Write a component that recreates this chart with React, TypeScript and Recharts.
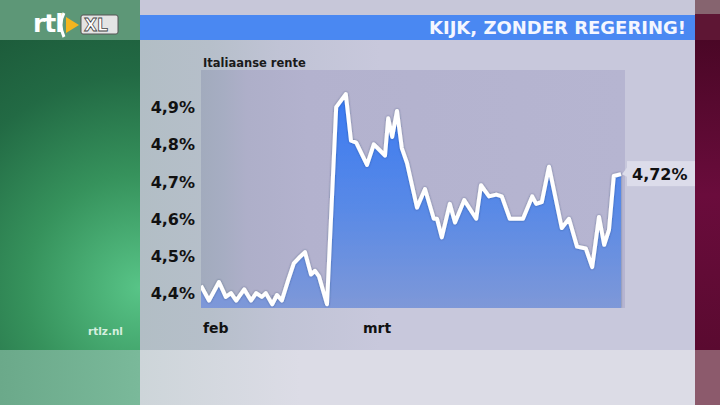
import { AreaChart, Area, XAxis, YAxis, CartesianGrid, ReferenceDot } from 'recharts'

// trading days since 1 feb (x) and Italian 10y yield in % (y)
const days = [
  0, 1, 2.25, 3.1, 3.75, 4.4, 5.4, 6.25, 6.9, 7.6, 8.1, 8.9, 9.5, 10.1, 10.9, 11.6, 12.25, 13, 13.75, 14.25,
  14.75, 15.75, 16.9, 18.1, 18.75, 19.4, 20.75, 21.6, 23, 23.4, 23.9, 24.5, 25.1, 25.75, 27, 28, 29.1, 29.5,
  30.1, 31.1, 31.75, 32.9, 34.4, 35, 36, 36.9, 37.6, 38.6, 39.5, 40.25, 41.4, 41.9, 42.6, 43.5, 45.1, 46, 47,
  48.1, 48.9, 49.75, 50.4, 51, 51.6, 52.5,
]
const rates = [
  4.42, 4.38, 4.43, 4.39, 4.4, 4.38, 4.41, 4.38, 4.4, 4.39, 4.4, 4.37, 4.395, 4.38, 4.435, 4.48, 4.495, 4.51,
  4.45, 4.46, 4.445, 4.37, 4.9, 4.935, 4.81, 4.805, 4.745, 4.8, 4.77, 4.87, 4.82, 4.89, 4.79, 4.75, 4.63, 4.68,
  4.6, 4.6, 4.55, 4.64, 4.59, 4.65, 4.6, 4.69, 4.66, 4.665, 4.66, 4.6, 4.6, 4.6, 4.66, 4.64, 4.645, 4.74, 4.575,
  4.6, 4.525, 4.52, 4.47, 4.605, 4.53, 4.57, 4.715, 4.72,
]
const yTicks = [4.4, 4.5, 4.6, 4.7, 4.8, 4.9]
const monthTicks = [0, 20]
const monthLabels = ['feb', 'mrt']
const lastLabel = '4,72%'
const title = 'KIJK, ZONDER REGERING!'
const seriesName = 'Italiaanse rente'
const source = 'Bron: Reuters'

const data = days.map((t, i) => ({ t, v: rates[i] }))
const last = data[data.length - 1]

const FONT = '"DejaVu Sans", Verdana, sans-serif'

const pct = (v: number) => `${v.toFixed(1).replace('.', ',')}%`

function YTick({ x, y, payload }: any) {
  return (
    <text x={x} y={y} dy={6} textAnchor="end" fontFamily={FONT} fontWeight={700} fontSize={16} fill="#111">
      {pct(payload.value)}
    </text>
  )
}

function XTick({ x, y, payload }: any) {
  const idx = monthTicks.indexOf(payload.value)
  return (
    <text x={x + 2} y={y + 17} textAnchor="start" fontFamily={FONT} fontWeight={700} fontSize={14} fill="#111">
      {monthLabels[idx] ?? ''}
    </text>
  )
}

// little flag with the last value, hooked onto the end of the line
function LastValue({ cx, cy }: any) {
  if (cx == null || cy == null) return null
  return (
    <g>
      <polygon points={`${cx + 1},${cy} ${cx + 7},${cy - 8} ${cx + 7},${cy + 3}`} fill="#dcdcea" />
      <rect x={cx + 6} y={cy - 13} width={68} height={25} fill="#dcdcea" />
      <text x={cx + 11} y={cy + 6} fontFamily={FONT} fontWeight={700} fontSize={16} fill="#111">
        {lastLabel}
      </text>
    </g>
  )
}

export default function App() {
  return (
    <div style={{ position: 'absolute', left: 0, top: 0, width: 720, height: 405, overflow: 'hidden', fontFamily: FONT }}>
      {/* studio backdrop */}
      <div style={{ position: 'absolute', left: 0, top: 0, width: 720, height: 405, background: '#d8d8e4' }} />
      <div style={{ position: 'absolute', left: 140, top: 0, width: 555, height: 15, background: '#c7c7d9' }} />
      <div
        style={{
          position: 'absolute', left: 140, top: 40, width: 555, height: 310,
          background: 'linear-gradient(90deg, #b2bec5 0px, #b6bfca 70px, #c0c3d5 140px, #c8c8dc 240px, #c8c8dc 555px)',
        }}
      />
      <div style={{ position: 'absolute', left: 140, top: 350, width: 555, height: 55, background: 'linear-gradient(90deg, #cdd5d9, #dcdce6 160px)' }} />

      {/* green side panel */}
      <div style={{ position: 'absolute', left: 0, top: 0, width: 140, height: 40, background: '#5d9777' }} />
      <div
        style={{
          position: 'absolute', left: 0, top: 40, width: 140, height: 310,
          background: 'radial-gradient(circle at 100% 80%, #58c487 0%, #36925c 40%, #226a44 75%, #1d5c3b 100%)',
        }}
      />
      <div style={{ position: 'absolute', left: 0, top: 350, width: 140, height: 55, background: 'linear-gradient(90deg, #6ba98a, #7ab99a)' }} />

      {/* red side strip */}
      <div style={{ position: 'absolute', left: 695, top: 0, width: 25, height: 14, background: '#86646f' }} />
      <div style={{ position: 'absolute', left: 695, top: 14, width: 25, height: 26, background: '#5e1634' }} />
      <div style={{ position: 'absolute', left: 695, top: 40, width: 25, height: 310, background: 'linear-gradient(180deg, #4a0726, #6a0c3c 50%, #5a0a30)' }} />
      <div style={{ position: 'absolute', left: 695, top: 350, width: 25, height: 55, background: '#8c5a6c' }} />

      {/* title bar */}
      <div style={{ position: 'absolute', left: 140, top: 15, width: 555, height: 25, background: '#4a88f2' }} />
      <div
        style={{
          position: 'absolute', right: 720 - 686, top: 16, height: 23, lineHeight: '23px',
          color: '#f4f6ff', fontWeight: 700, fontSize: 18, whiteSpace: 'nowrap',
        }}
      >
        {title}
      </div>

      {/* logo */}
      <div style={{ position: 'absolute', left: 33, top: 9, height: 30, lineHeight: '30px', color: '#ffffff', fontWeight: 700, fontSize: 25, letterSpacing: -1 }}>
        rtl
      </div>
      <svg style={{ position: 'absolute', left: 0, top: 0 }} width={140} height={40}>
        <path d="M64 13 Q58 24 64 37" stroke="#ffffff" strokeWidth={3} fill="none" />
        <polygon points="66,17 79,25 66,33" fill="#f5b51e" />
        <rect x={81} y={15} width={37} height={19} rx={2} fill="#e4e4e4" stroke="#555" strokeWidth={1} />
        <text x={84} y={31} fontFamily={FONT} fontWeight={700} fontSize={17} fill="#ffffff" stroke="#444" strokeWidth={0.8}>
          XL
        </text>
      </svg>

      <div style={{ position: 'absolute', left: 88, top: 325, color: '#d5efdf', fontWeight: 700, fontSize: 10.5 }}>rtlz.nl</div>

      <AreaChart
        width={720}
        height={405}
        data={data}
        margin={{ top: 70, right: 95, bottom: 67, left: 141 }}
        style={{ position: 'absolute', left: 0, top: 0 }}
      >
        <defs>
          <linearGradient id="plotBg" x1="0" y1="0" x2="1" y2="0">
            <stop offset="0%" stopColor="#a2abbd" />
            <stop offset="5%" stopColor="#a6adc2" />
            <stop offset="11%" stopColor="#aeafc9" />
            <stop offset="25%" stopColor="#b3b2ce" />
            <stop offset="100%" stopColor="#b6b5d1" />
          </linearGradient>
          <linearGradient id="rateFill" x1="0" y1="0" x2="0" y2="1">
            <stop offset="0%" stopColor="#3a7af2" />
            <stop offset="55%" stopColor="#5a8ae6" />
            <stop offset="100%" stopColor="#7e98d8" />
          </linearGradient>
          <filter id="lineGlow" x="-10%" y="-10%" width="120%" height="120%">
            <feDropShadow dx="0" dy="0" stdDeviation="1.2" floodColor="#1a2a50" floodOpacity="0.45" />
          </filter>
        </defs>
        <CartesianGrid horizontal={false} vertical={false} fill="url(#plotBg)" />
        <XAxis
          dataKey="t"
          type="number"
          domain={[0, 53]}
          ticks={monthTicks}
          allowDataOverflow
          height={30}
          axisLine={false}
          tickLine={false}
          tick={<XTick />}
        />
        <YAxis
          type="number"
          domain={[4.36, 5.0]}
          ticks={yTicks}
          allowDataOverflow
          width={60}
          axisLine={false}
          tickLine={false}
          tickSize={0}
          tickMargin={6}
          tick={<YTick />}
        />
        <text x={203} y={67} fontFamily={FONT} fontWeight={700} fontSize={11.5} fill="#1a1a1a">
          {seriesName}
        </text>
        <text x={218} y={300} fontFamily={FONT} fontSize={9} fill="#8a93b8" opacity={0.8}>
          {source}
        </text>
        <Area
          type="linear"
          dataKey="v"
          stroke="#ffffff"
          strokeWidth={4}
          strokeLinejoin="round"
          fill="url(#rateFill)"
          fillOpacity={1}
          dot={false}
          activeDot={false}
          isAnimationActive={false}
          style={{ filter: 'url(#lineGlow)' }}
        />
        <ReferenceDot x={last.t} y={last.v} r={0} shape={<LastValue />} ifOverflow="visible" />
      </AreaChart>
    </div>
  )
}
